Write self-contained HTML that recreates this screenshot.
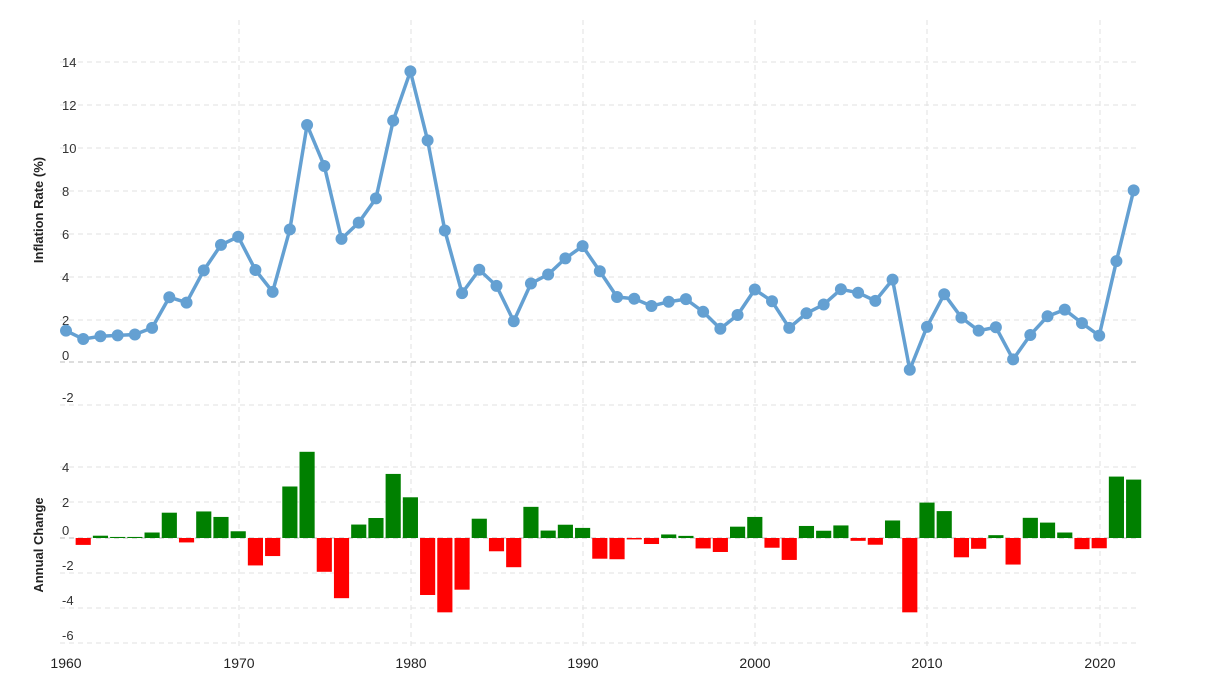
<!DOCTYPE html>
<html><head><meta charset="utf-8"><style>
body{margin:0;background:#fff;}
svg{display:block;font-family:"Liberation Sans",sans-serif;}
</style></head><body>
<svg width="1206" height="698" viewBox="0 0 1206 698">
<g stroke="#e2e2e2" stroke-dasharray="5,4" stroke-width="1">
<line x1="60" x2="1140" y1="62" y2="62"/><line x1="60" x2="1140" y1="105" y2="105"/>
<line x1="60" x2="1140" y1="148" y2="148"/><line x1="60" x2="1140" y1="191" y2="191"/>
<line x1="60" x2="1140" y1="234" y2="234"/><line x1="60" x2="1140" y1="277" y2="277"/>
<line x1="60" x2="1140" y1="320" y2="320"/><line x1="60" x2="1140" y1="405" y2="405"/>
<line x1="60" x2="1140" y1="467" y2="467"/><line x1="60" x2="1140" y1="502" y2="502"/>
<line x1="60" x2="1140" y1="573" y2="573"/><line x1="60" x2="1140" y1="608" y2="608"/>
<line x1="60" x2="1140" y1="643" y2="643"/>
<line x1="239" x2="239" y1="20" y2="650"/><line x1="411" x2="411" y1="20" y2="650"/>
<line x1="583" x2="583" y1="20" y2="650"/><line x1="755" x2="755" y1="20" y2="650"/>
<line x1="927" x2="927" y1="20" y2="650"/><line x1="1100" x2="1100" y1="20" y2="650"/>
</g>
<line x1="60" x2="1140" y1="362" y2="362" stroke="#bbb" stroke-dasharray="5,4"/>
<line x1="60" x2="1140" y1="538" y2="538" stroke="#bbb" stroke-dasharray="5,4"/>
<g font-size="13" fill="#333">
<text x="62" y="67">14</text><text x="62" y="110">12</text><text x="62" y="153">10</text>
<text x="62" y="196">8</text><text x="62" y="239">6</text><text x="62" y="282">4</text>
<text x="62" y="325">2</text><text x="62" y="360">0</text><text x="62" y="402">-2</text>
<text x="62" y="472">4</text><text x="62" y="507">2</text><text x="62" y="535">0</text>
<text x="62" y="570">-2</text><text x="62" y="605">-4</text><text x="62" y="640">-6</text>
</g>
<g font-size="14" fill="#222" text-anchor="middle">
<text x="66" y="668">1960</text><text x="239" y="668">1970</text><text x="411" y="668">1980</text>
<text x="583" y="668">1990</text><text x="755" y="668">2000</text><text x="927" y="668">2010</text>
<text x="1100" y="668">2020</text>
</g>
<g font-size="13" font-weight="bold" fill="#222" text-anchor="middle">
<text transform="translate(43,210) rotate(-90)">Inflation Rate (%)</text>
<text transform="translate(43,545) rotate(-90)">Annual Change</text>
</g>
<g transform="translate(66,538) scale(17.22,-17.7)">
<g fill="#ff0000">
<rect x="0.56" y="-0.39" width="0.88" height="0.39"/><rect x="6.56" y="-0.25" width="0.88" height="0.25"/>
<rect x="10.56" y="-1.55" width="0.88" height="1.55"/><rect x="11.56" y="-1.02" width="0.88" height="1.02"/>
<rect x="14.56" y="-1.91" width="0.88" height="1.91"/><rect x="15.56" y="-3.4" width="0.88" height="3.4"/>
<rect x="20.56" y="-3.22" width="0.88" height="3.22"/><rect x="21.56" y="-4.2" width="0.88" height="4.2"/>
<rect x="22.56" y="-2.92" width="0.88" height="2.92"/><rect x="24.56" y="-0.75" width="0.88" height="0.75"/>
<rect x="25.56" y="-1.65" width="0.88" height="1.65"/><rect x="30.56" y="-1.17" width="0.88" height="1.17"/>
<rect x="31.56" y="-1.2" width="0.88" height="1.2"/><rect x="32.56" y="-0.08" width="0.88" height="0.08"/>
<rect x="33.56" y="-0.34" width="0.88" height="0.34"/><rect x="36.56" y="-0.59" width="0.88" height="0.59"/>
<rect x="37.56" y="-0.79" width="0.88" height="0.79"/><rect x="40.56" y="-0.55" width="0.88" height="0.55"/>
<rect x="41.56" y="-1.24" width="0.88" height="1.24"/><rect x="45.56" y="-0.16" width="0.88" height="0.16"/>
<rect x="46.56" y="-0.38" width="0.88" height="0.38"/><rect x="48.56" y="-4.2" width="0.88" height="4.2"/>
<rect x="51.56" y="-1.09" width="0.88" height="1.09"/><rect x="52.56" y="-0.61" width="0.88" height="0.61"/>
<rect x="54.56" y="-1.5" width="0.88" height="1.5"/><rect x="58.56" y="-0.63" width="0.88" height="0.63"/>
<rect x="59.56" y="-0.58" width="0.88" height="0.58"/>
</g>
<g fill="#008000">
<rect x="1.56" y="0" width="0.88" height="0.13"/><rect x="2.56" y="0" width="0.88" height="0.06"/>
<rect x="3.56" y="0" width="0.88" height="0.06"/><rect x="4.56" y="0" width="0.88" height="0.31"/>
<rect x="5.56" y="0" width="0.88" height="1.43"/><rect x="7.56" y="0" width="0.88" height="1.5"/>
<rect x="8.56" y="0" width="0.88" height="1.19"/><rect x="9.56" y="0" width="0.88" height="0.38"/>
<rect x="12.56" y="0" width="0.88" height="2.91"/><rect x="13.56" y="0" width="0.88" height="4.87"/>
<rect x="16.56" y="0" width="0.88" height="0.76"/><rect x="17.56" y="0" width="0.88" height="1.13"/>
<rect x="18.56" y="0" width="0.88" height="3.62"/><rect x="19.56" y="0" width="0.88" height="2.3"/>
<rect x="23.56" y="0" width="0.88" height="1.09"/><rect x="26.56" y="0" width="0.88" height="1.76"/>
<rect x="27.56" y="0" width="0.88" height="0.42"/><rect x="28.56" y="0" width="0.88" height="0.75"/>
<rect x="29.56" y="0" width="0.88" height="0.57"/><rect x="34.56" y="0" width="0.88" height="0.2"/>
<rect x="35.56" y="0" width="0.88" height="0.12"/><rect x="38.56" y="0" width="0.88" height="0.64"/>
<rect x="39.56" y="0" width="0.88" height="1.19"/><rect x="42.56" y="0" width="0.88" height="0.68"/>
<rect x="43.56" y="0" width="0.88" height="0.41"/><rect x="44.56" y="0" width="0.88" height="0.71"/>
<rect x="47.56" y="0" width="0.88" height="0.99"/><rect x="49.56" y="0" width="0.88" height="2.0"/>
<rect x="50.56" y="0" width="0.88" height="1.52"/><rect x="53.56" y="0" width="0.88" height="0.16"/>
<rect x="55.56" y="0" width="0.88" height="1.14"/><rect x="56.56" y="0" width="0.88" height="0.87"/>
<rect x="57.56" y="0" width="0.88" height="0.31"/><rect x="60.56" y="0" width="0.88" height="3.47"/>
<rect x="61.56" y="0" width="0.88" height="3.3"/>
</g>
</g>
<g transform="translate(66,362) scale(17.22,-21.45)" fill="none" stroke="#64a0d2">
<polyline vector-effect="non-scaling-stroke" stroke-width="3.5" stroke-linejoin="round" points="0,1.46 1,1.07 2,1.2 3,1.24 4,1.28 5,1.59 6,3.02 7,2.77 8,4.27 9,5.46 10,5.84 11,4.29 12,3.27 13,6.18 14,11.05 15,9.14 16,5.74 17,6.5 18,7.63 19,11.25 20,13.55 21,10.33 22,6.13 23,3.21 24,4.3 25,3.55 26,1.9 27,3.66 28,4.08 29,4.83 30,5.4 31,4.23 32,3.03 33,2.95 34,2.61 35,2.81 36,2.93 37,2.34 38,1.55 39,2.19 40,3.38 41,2.83 42,1.59 43,2.27 44,2.68 45,3.39 46,3.23 47,2.85 48,3.84 49,-0.36 50,1.64 51,3.16 52,2.07 53,1.46 54,1.62 55,0.12 56,1.26 57,2.13 58,2.44 59,1.81 60,1.23 61,4.7 62,8.0"/>
<path vector-effect="non-scaling-stroke" stroke-width="12" stroke-linecap="round" d="M0,1.46h0M1,1.07h0M2,1.2h0M3,1.24h0M4,1.28h0M5,1.59h0M6,3.02h0M7,2.77h0M8,4.27h0M9,5.46h0M10,5.84h0M11,4.29h0M12,3.27h0M13,6.18h0M14,11.05h0M15,9.14h0M16,5.74h0M17,6.5h0M18,7.63h0M19,11.25h0M20,13.55h0M21,10.33h0M22,6.13h0M23,3.21h0M24,4.3h0M25,3.55h0M26,1.9h0M27,3.66h0M28,4.08h0M29,4.83h0M30,5.4h0M31,4.23h0M32,3.03h0M33,2.95h0M34,2.61h0M35,2.81h0M36,2.93h0M37,2.34h0M38,1.55h0M39,2.19h0M40,3.38h0M41,2.83h0M42,1.59h0M43,2.27h0M44,2.68h0M45,3.39h0M46,3.23h0M47,2.85h0M48,3.84h0M49,-0.36h0M50,1.64h0M51,3.16h0M52,2.07h0M53,1.46h0M54,1.62h0M55,0.12h0M56,1.26h0M57,2.13h0M58,2.44h0M59,1.81h0M60,1.23h0M61,4.7h0M62,8.0h0"/>
</g>
</svg>
</body></html>
